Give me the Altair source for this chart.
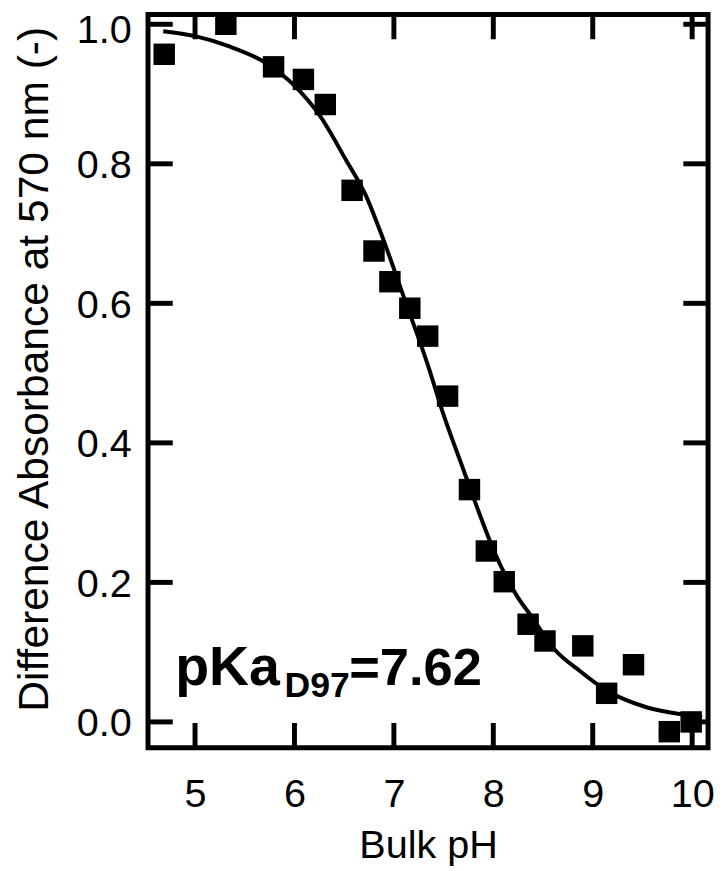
import altair as alt
import pandas as pd

# measured data (squares)
ph_points = [4.69, 5.31, 5.79, 6.09, 6.31, 6.58, 6.80, 6.96, 7.16, 7.34, 7.54,
             7.76, 7.93, 8.11, 8.35, 8.52, 8.90, 9.14, 9.41, 9.77, 9.99]
abs_points = [0.957, 1.000, 0.939, 0.921, 0.885, 0.762, 0.675, 0.631, 0.593, 0.553, 0.467,
              0.333, 0.245, 0.201, 0.140, 0.116, 0.109, 0.041, 0.082, -0.014, 0.000]

# fitted curve
ph_fit = [4.68, 5.00, 5.33, 5.73, 6.00, 6.25, 6.52, 6.72, 6.85, 7.12, 7.35, 7.50,
          7.67, 7.82, 8.01, 8.24, 8.38, 8.61, 8.88, 9.14, 9.54, 9.94, 10.10]
abs_fit = [0.990, 0.983, 0.969, 0.943, 0.912, 0.870, 0.805, 0.754, 0.708, 0.601, 0.508, 0.440,
           0.373, 0.314, 0.244, 0.180, 0.152, 0.105, 0.072, 0.045, 0.021, 0.010, 0.007]

x_ticks = [5, 6, 7, 8, 9, 10]
y_ticks = [0.0, 0.2, 0.4, 0.6, 0.8, 1.0]

x_title = "Bulk pH"
y_title = "Difference Absorbance at 570 nm (-)"

# annotation (pKa label) anchored in data coordinates
ann_main = ["pKa"]
ann_sub = ["D97"]
ann_val = ["=7.62"]
ann_x = [4.80, 5.90, 6.55]
ann_y = [0.0525, 0.035, 0.0525]

FONT = "Liberation Sans"
W, H = 566, 741
TICK = 25

xscale = alt.Scale(domain=[4.527, 10.16], nice=False, zero=False)
yscale = alt.Scale(domain=[-0.037, 1.014], nice=False, zero=False)

pts = pd.DataFrame({"ph": ph_points, "a": abs_points})
fit = pd.DataFrame({"ph": ph_fit, "a": abs_fit})
xt = pd.DataFrame({"ph": x_ticks})
yt = pd.DataFrame({"a": y_ticks})

xaxis = alt.Axis(values=x_ticks, format="d", title=x_title, grid=False, ticks=False,
                 tickSize=0, domain=False, labelFontSize=40, labelFont=FONT,
                 labelColor="black", labelPadding=59, labelBaseline="alphabetic",
                 labelFlush=False, labelOverlap=False,
                 titleFontSize=40, titleFont=FONT, titleFontWeight="normal",
                 titleColor="black", titleY=111, titleBaseline="alphabetic")
yaxis = alt.Axis(values=y_ticks, format=".1f", title=y_title, grid=False, ticks=False,
                 tickSize=0, domain=False, labelFontSize=40, labelFont=FONT,
                 labelColor="black", labelPadding=17, labelFlush=False,
                 labelOverlap=False,
                 labelOffset={"condition": {"test": "datum.value >= 0.99", "value": 6}, "value": 2},
                 titleFontSize=43, titleFont=FONT, titleFontWeight="normal",
                 titleColor="black", titleAngle=270, titleAlign="center",
                 titleBaseline="bottom", titleX=-93, titleY=358)

X = alt.X("ph:Q", scale=xscale, axis=xaxis)
Y = alt.Y("a:Q", scale=yscale, axis=yaxis)

line = alt.Chart(fit).mark_line(color="black", strokeWidth=4, interpolate="monotone").encode(x=X, y=Y)
squares = alt.Chart(pts).mark_square(size=470, color="black", opacity=1, filled=True).encode(x=X, y=Y)

tick_style = dict(color="black", strokeWidth=5)
xt_bottom = alt.Chart(xt).mark_rule(**tick_style).encode(
    x=X, y=alt.value(H), y2=alt.value(H - TICK))
xt_top = alt.Chart(xt).mark_rule(**tick_style).encode(
    x=X, y=alt.value(0), y2=alt.value(TICK))
yt_left = alt.Chart(yt).mark_rule(**tick_style).encode(
    y=Y, x=alt.value(0), x2=alt.value(TICK))
yt_right = alt.Chart(yt).mark_rule(**tick_style).encode(
    y=Y, x=alt.value(W), x2=alt.value(W - TICK))


def ann(i, txt, size):
    df = pd.DataFrame({"ph": [ann_x[i]], "a": [ann_y[i]], "s": txt})
    return alt.Chart(df).mark_text(
        align="left", baseline="alphabetic", font=FONT, fontSize=size, fontWeight="bold",
        color="black").encode(x=X, y=Y, text="s:N")


a1 = ann(0, ann_main, 56)
a2 = ann(1, ann_sub, 36)
a3 = ann(2, ann_val, 53)

chart = alt.layer(line, squares, xt_bottom, xt_top, yt_left, yt_right, a1, a2, a3).properties(
    width=W, height=H,
    autosize=alt.AutoSizeParams(type="none"),
    padding={"left": 141.5, "top": 2, "right": 6, "bottom": 120},
    background="white",
).configure_view(stroke="black", strokeWidth=5)

chart.save("out.html", embed_options={"renderer": "svg", "actions": False})
